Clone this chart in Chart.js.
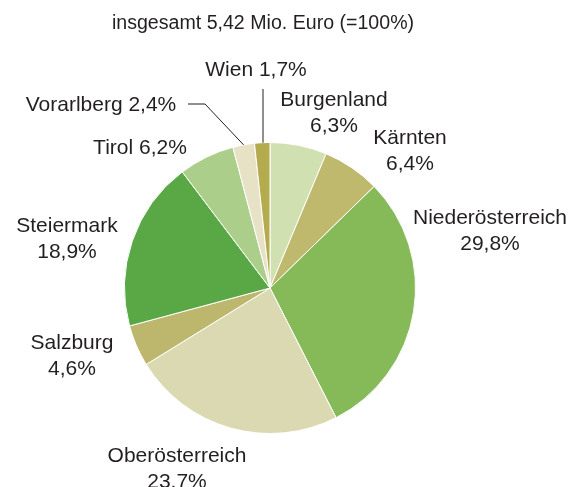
<!DOCTYPE html>
<html>
<head>
<meta charset="utf-8">
<script src="https://cdn.jsdelivr.net/npm/chart.js@4"></script>
<style>
  body { margin: 0; background: #fff; }
  canvas { display: block; }
</style>
</head>
<body>
<canvas id="pieChart" width="572" height="487"></canvas>
<script>
// Anteile nach Bundesland (in %), im Uhrzeigersinn ab 12 Uhr
const regions = ['Burgenland', 'Kärnten', 'Niederösterreich', 'Oberösterreich', 'Salzburg', 'Steiermark', 'Tirol', 'Vorarlberg', 'Wien'];
const shares = [6.3, 6.4, 29.8, 23.7, 4.6, 18.9, 6.2, 2.4, 1.7];
const shareLabels = ['6,3%', '6,4%', '29,8%', '23.7%', '4,6%', '18,9%', '6,2%', '2,4%', '1,7%'];
const chartTitle = 'insgesamt 5,42 Mio. Euro (=100%)';

const sliceColors = ['#d1e0b1', '#bfb96e', '#86b957', '#dbd9b1', '#bdb76d', '#5aa746', '#abcf8b', '#e7e2c6', '#b3ab4e'];

// label placement (text centre, line 1), one-line labels flagged
const labelPos = [
    { x: 334, y: 100, twoLines: true },
    { x: 410, y: 138, twoLines: true },
    { x: 490, y: 218, twoLines: true },
    { x: 177, y: 456, twoLines: true },
    { x: 72,  y: 343, twoLines: true },
    { x: 67,  y: 226, twoLines: true },
    { x: 140, y: 148, twoLines: false },
    { x: 101, y: 105, twoLines: false },
    { x: 256, y: 70,  twoLines: false }
];
// leader lines: elbow points, the end on the arc comes from the slice itself
const leaders = {
    7: [[188, 104], [205, 104]],
    8: [[263, 89]]
};

const labelPlugin = {
    id: 'labelPlugin',
    afterDraw(chart) {
        const ctx = chart.ctx;
        const arcs = chart.getDatasetMeta(0).data;
        ctx.save();
        ctx.fillStyle = '#231f20';
        ctx.textAlign = 'center';
        ctx.textBaseline = 'middle';

        ctx.font = '19.6px "Liberation Sans", Arial, sans-serif';
        ctx.fillText(chartTitle, 263, 24);

        ctx.font = '21px "Liberation Sans", Arial, sans-serif';
        regions.forEach((name, i) => {
            const p = labelPos[i];
            if (p.twoLines) {
                ctx.fillText(name, p.x, p.y);
                ctx.fillText(shareLabels[i], p.x, p.y + 26);
            } else {
                ctx.fillText(name + ' ' + shareLabels[i], p.x, p.y);
            }
        });

        // leader lines
        ctx.strokeStyle = '#231f20';
        ctx.lineWidth = 1;
        Object.keys(leaders).forEach(k => {
            const arc = arcs[k];
            const mid = (arc.startAngle + arc.endAngle) / 2;
            const ex = arc.x + Math.cos(mid) * arc.outerRadius;
            const ey = arc.y + Math.sin(mid) * arc.outerRadius;
            const pts = leaders[k];
            ctx.beginPath();
            ctx.moveTo(pts[0][0], pts[0][1]);
            for (let j = 1; j < pts.length; j++) ctx.lineTo(pts[j][0], pts[j][1]);
            if (pts.length === 1) ctx.lineTo(pts[0][0], ey);
            else ctx.lineTo(ex, ey);
            ctx.stroke();
        });
        ctx.restore();
    }
};

new Chart(document.getElementById('pieChart').getContext('2d'), {
    type: 'pie',
    data: {
        labels: regions,
        datasets: [{
            data: shares,
            backgroundColor: sliceColors,
            borderColor: '#ffffff',
            borderWidth: 1
        }]
    },
    options: {
        responsive: false,
        animation: false,
        layout: {
            padding: { left: 124, right: 156, top: 142, bottom: 53 }
        },
        plugins: {
            legend: { display: false },
            tooltip: { enabled: false },
            title: { display: false }
        }
    },
    plugins: [labelPlugin]
});
</script>
</body>
</html>
